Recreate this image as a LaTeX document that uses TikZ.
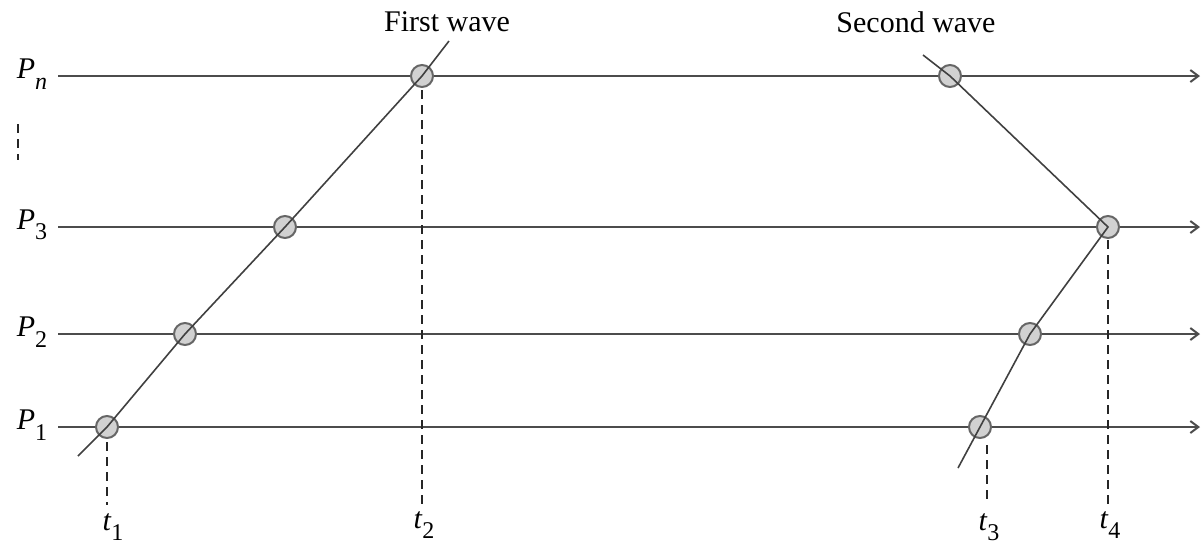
\documentclass[tikz,border=0pt]{standalone}
\usepackage{fontspec}
\setmainfont{Liberation Serif}
\usetikzlibrary{arrows.meta}
\begin{document}
\begin{tikzpicture}[x=0.5pt,y=-0.5pt,
  axis/.style={draw=black!70,line width=1pt,-{Straight Barb[length=4pt,width=6pt]}},
  wave/.style={draw=black!75,line width=0.8pt},
  evt/.style={circle,draw=black!60,fill=black!18,line width=1pt,minimum size=11pt,inner sep=0pt},
  tick/.style={draw=black!85,line width=1.3pt,dash pattern=on 4.5pt off 3pt},
  lbl/.style={font=\fontsize{15}{18}\selectfont,inner sep=0pt},
  tlbl/.style={font=\fontsize{15}{18}\selectfont,inner sep=0pt,anchor=base}]
\useasboundingbox (0,0) rectangle (1201,543);
% process labels
\node[lbl] (Pn) at (32,74) {\textit{P}\raisebox{-0.35em}{\fontsize{12}{12}\selectfont\textit{n}}};
\node[lbl] (P3) at (32,225) {\textit{P}\raisebox{-0.35em}{\fontsize{12}{12}\selectfont 3}};
\node[lbl] (P2) at (32,332) {\textit{P}\raisebox{-0.35em}{\fontsize{12}{12}\selectfont 2}};
\node[lbl] (P1) at (32,425) {\textit{P}\raisebox{-0.35em}{\fontsize{12}{12}\selectfont 1}};
\coordinate (dA) at (18,124);
\coordinate (dB) at (18,160);
\draw[tick] (dA) -- (dB);
% axis lines
\coordinate (sn) at (58,76); \coordinate (en) at (1200,76);
\coordinate (s3) at (58,227); \coordinate (e3) at (1200,227);
\coordinate (s2) at (58,334); \coordinate (e2) at (1200,334);
\coordinate (s1) at (58,427); \coordinate (e1) at (1200,427);
\draw[axis] (sn) -- (en);
\draw[axis] (s3) -- (e3);
\draw[axis] (s2) -- (e2);
\draw[axis] (s1) -- (e1);
% wave labels
\node[lbl] (fw) at (447,22) {First wave};
\node[lbl] (sw) at (916,22) {Second wave};
% dashed time lines
\coordinate (t1a) at (107,442); \coordinate (t1b) at (107,505);
\coordinate (t2a) at (422,90);  \coordinate (t2b) at (422,508);
\coordinate (t3a) at (987,445); \coordinate (t3b) at (987,505);
\coordinate (t4a) at (1108,240); \coordinate (t4b) at (1108,508);
\draw[tick] (t1a) -- (t1b);
\draw[tick] (t2a) -- (t2b);
\draw[tick] (t3a) -- (t3b);
\draw[tick] (t4a) -- (t4b);
% time labels
\node[tlbl] (t1) at (113,530) {\textit{t}\raisebox{-0.35em}{\fontsize{12}{12}\selectfont 1}};
\node[tlbl] (t2) at (424,528) {\textit{t}\raisebox{-0.35em}{\fontsize{12}{12}\selectfont 2}};
\node[tlbl] (t3) at (989,530) {\textit{t}\raisebox{-0.35em}{\fontsize{12}{12}\selectfont 3}};
\node[tlbl] (t4) at (1110,528) {\textit{t}\raisebox{-0.35em}{\fontsize{12}{12}\selectfont 4}};
% events
\node[evt] (a1) at (107,427) {};
\node[evt] (a2) at (185,334) {};
\node[evt] (a3) at (285,227) {};
\node[evt] (an) at (422,76) {};
\node[evt] (bn) at (950,76) {};
\node[evt] (b3) at (1108,227) {};
\node[evt] (b2) at (1030,334) {};
\node[evt] (b1) at (980,427) {};
% wave lines
\coordinate (fwS) at (78,456);
\coordinate (fwE) at (449,41);
\coordinate (swS) at (923,55);
\coordinate (swE) at (958,468);
\draw[wave] (fwS) -- (a1.center) -- (a2.center) -- (a3.center) -- (an.center) -- (fwE);
\draw[wave] (swS) -- (bn.center) -- (b3.center) -- (b2.center) -- (b1.center) -- (swE);
\end{tikzpicture}
\end{document}
